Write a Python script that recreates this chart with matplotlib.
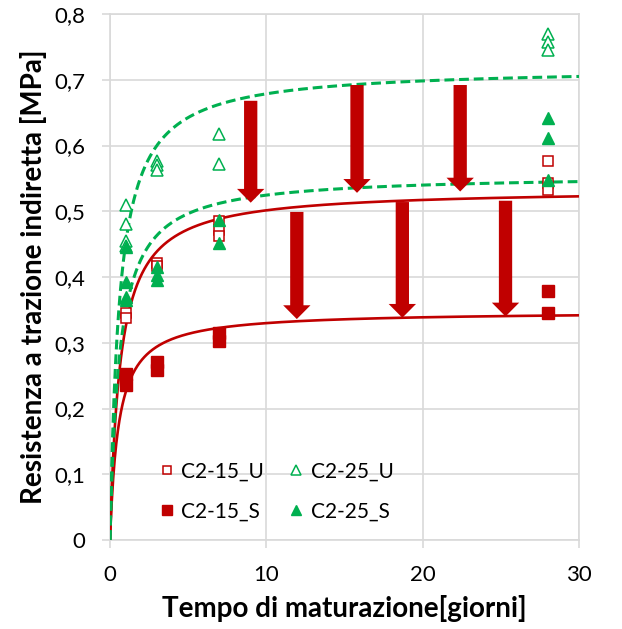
import numpy as np
import matplotlib
matplotlib.use("Agg")
import matplotlib.pyplot as plt
from matplotlib.patches import FancyArrow
from matplotlib.ticker import FuncFormatter

plt.rcParams['font.family'] = ['Lato', 'DejaVu Sans']

RED = '#C00000'
GREEN = '#00B050'
GRID = '#D9D9D9'

# ---- measured data (days, MPa) ----
c215u_t = [1, 1, 3, 3, 7, 7, 7, 28, 28, 28]
c215u_v = [0.345, 0.338, 0.422, 0.416, 0.485, 0.472, 0.462, 0.577, 0.543, 0.532]

c215s_t = [1, 1, 3, 3, 7, 7, 28, 28]
c215s_v = [0.252, 0.235, 0.270, 0.258, 0.315, 0.302, 0.378, 0.345]

c225u_t = [1, 1, 1, 1, 3, 3, 3, 7, 7, 28, 28, 28]
c225u_v = [0.510, 0.480, 0.455, 0.447, 0.577, 0.570, 0.562, 0.618, 0.572, 0.770, 0.757, 0.745]

c225s_t = [1, 1, 1, 1, 3, 3, 3, 7, 7, 28, 28, 28]
c225s_v = [0.445, 0.393, 0.370, 0.365, 0.415, 0.403, 0.395, 0.487, 0.452, 0.642, 0.612, 0.548]

# hyperbolic trend lines y = a*t/(b+t)
fit_names = ['C2-15_U', 'C2-15_S', 'C2-25_U', 'C2-25_S']
fit_a = [0.534, 0.348, 0.719, 0.556]
fit_b = [0.65, 0.55, 0.595, 0.60]

# arrows (day, top value, tip value)
arrow_green_x = [9.0, 15.8, 22.4]
arrow_green_top = [0.668, 0.692, 0.692]
arrow_green_tip = [0.513, 0.528, 0.530]
arrow_red_x = [11.95, 18.7, 25.3]
arrow_red_top = [0.499, 0.514, 0.516]
arrow_red_tip = [0.336, 0.338, 0.340]

x_ticks = [0, 10, 20, 30]
y_ticks = [0, 0.1, 0.2, 0.3, 0.4, 0.5, 0.6, 0.7, 0.8]

fig = plt.figure(figsize=(6.22, 6.29), dpi=100)
ax = fig.add_axes([110/622, 1 - 540/629, (579-110)/622, (540-14)/629])

ax.set_xlim(0, 30)
ax.set_ylim(0, 0.8)
ax.set_xticks(x_ticks)
ax.set_yticks(y_ticks)
ax.grid(True, color=GRID, lw=1.2, zorder=0)
ax.set_axisbelow(True)
for s in ax.spines.values():
    s.set_color(GRID)
    s.set_linewidth(1.2)
ax.tick_params(axis='both', colors=GRID, length=6, width=1.2, labelsize=16, labelcolor='black')
ax.tick_params(axis='y', pad=12)
ax.tick_params(axis='x', pad=12)
ax.yaxis.set_major_formatter(FuncFormatter(lambda v, p: '0' if v == 0 else f'{v:.1f}'.replace('.', ',')))

# trend lines
tt = np.linspace(0, 30, 600)
styles = [dict(color=RED, lw=1.9, ls='-'), dict(color=RED, lw=1.9, ls='-'),
          dict(color=GREEN, lw=2.2, ls=(0, (3.2, 1.6))), dict(color=GREEN, lw=2.2, ls=(0, (3.2, 1.6)))]
for a, b, st in zip(fit_a, fit_b, styles):
    ax.plot(tt, a * tt / (b + tt), zorder=3, **st)

# scatter
h1, = ax.plot(c215u_t, c215u_v, ls='none', marker='s', ms=6.5, mfc='white', mec=RED, mew=1.1, zorder=4, label='C2-15_U')
h2, = ax.plot(c215s_t, c215s_v, ls='none', marker='s', ms=8.5, mfc=RED, mec=RED, zorder=4, label='C2-15_S')
h3, = ax.plot(c225u_t, c225u_v, ls='none', marker='^', ms=9, mfc='white', mec=GREEN, mew=1.1, zorder=4, label='C2-25_U')
h4, = ax.plot(c225s_t, c225s_v, ls='none', marker='^', ms=9, mfc=GREEN, mec=GREEN, zorder=4, label='C2-25_S')

# arrows
for xs, tops, tips in [(arrow_green_x, arrow_green_top, arrow_green_tip),
                       (arrow_red_x, arrow_red_top, arrow_red_tip)]:
    for x, t0, t1 in zip(xs, tops, tips):
        ax.add_patch(FancyArrow(x, t0, 0, t1 - t0, width=0.85, head_width=1.75,
                                head_length=0.021, length_includes_head=True,
                                color=RED, lw=0, zorder=5))

leg = ax.legend(handles=[h1, h2, h3, h4], ncol=2, frameon=False, loc='lower left',
                bbox_to_anchor=(0.065, 0.0), fontsize=15, labelspacing=0.95,
                handlelength=0.7, handletextpad=0.35, columnspacing=1.2, markerscale=0.85)

ax.set_xlabel('Tempo di maturazione[giorni]', fontsize=20, fontweight='bold', labelpad=7)
ax.set_ylabel('Resistenza a trazione indiretta [MPa]', fontsize=20, fontweight='bold', labelpad=5)

fig.savefig('out.png', dpi=100)
